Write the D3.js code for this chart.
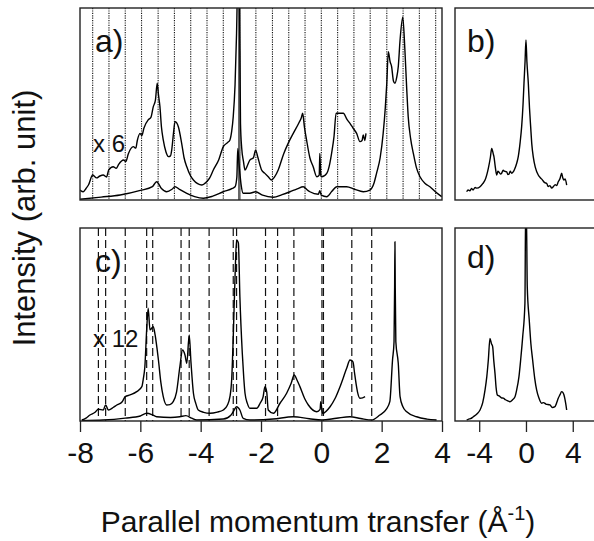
<!DOCTYPE html>
<html><head><meta charset="utf-8">
<script src="https://cdn.jsdelivr.net/npm/d3@7"></script>
<style>body{margin:0;background:#fff}svg{display:block}text{font-family:"Liberation Sans",Arial,sans-serif;fill:#111}</style>
</head><body>
<svg id="c" width="594" height="541"></svg>
<script>
// ---- data ----
const xTicksLeft = [-8, -6, -4, -2, 0, 2, 4];
const xTicksRight = [-4, 0, 4];
const dottedA = [-7.58,-7.04,-6.50,-5.96,-5.41,-4.87,-4.33,-3.79,-3.25,-2.71,-2.17,-1.62,-1.08,-0.54,0.00,0.54,1.08,1.62,2.17,2.71,3.25,3.79];
const specularA = [-2.72];
const dashedC = [-7.39,-7.15,-6.50,-5.79,-5.59,-4.65,-4.38,-3.72,-2.92,-2.81,-1.85,-1.45,-0.91,0.02,0.07,1.01,1.67];
const panelLabels = ["a)", "b)", "c)", "d)"];
const scaleLabels = ["x 6", "x 12"];

const aScaled = [[-8.00,5.2],[-7.89,4.3],[-7.80,6.0],[-7.72,7.8],[-7.58,13.0],[-7.45,11.5],[-7.34,12.5],[-7.23,13.0],[-7.12,12.0],[-7.05,15.5],[-6.90,17.3],[-6.80,16.5],[-6.72,18.5],[-6.56,20.8],[-6.48,20.0],[-6.40,24.0],[-6.23,27.8],[-6.15,27.0],[-6.10,31.0],[-6.01,34.7],[-5.95,33.5],[-5.88,37.5],[-5.74,41.7],[-5.65,43.0],[-5.57,48.6],[-5.50,52.0],[-5.44,60.8],[-5.40,55.0],[-5.35,48.6],[-5.30,38.0],[-5.24,31.3],[-5.15,25.0],[-5.07,22.6],[-5.00,23.0],[-4.96,26.0],[-4.90,35.0],[-4.85,40.8],[-4.74,38.2],[-4.63,29.5],[-4.55,22.0],[-4.46,17.3],[-4.35,13.0],[-4.24,10.4],[-4.10,8.5],[-3.97,7.8],[-3.80,9.5],[-3.70,11.5],[-3.58,15.6],[-3.40,21.0],[-3.25,27.8],[-3.10,30.0],[-3.03,31.3],[-2.97,36.0],[-2.92,43.4],[-2.86,60.0],[-2.81,86.8],[-2.77,115],[-2.72,115],[-2.68,40.0],[-2.64,27.1],[-2.58,20.0],[-2.53,15.6],[-2.45,18.0],[-2.37,20.8],[-2.25,22.0],[-2.18,26.0],[-2.10,22.0],[-2.03,18.0],[-1.98,15.6],[-1.88,14.0],[-1.76,12.1],[-1.65,10.4],[-1.55,12.0],[-1.43,15.6],[-1.25,24.0],[-1.10,29.5],[-0.93,34.7],[-0.75,40.0],[-0.66,43.0],[-0.62,45.2],[-0.56,38.0],[-0.49,31.3],[-0.38,22.0],[-0.27,17.3],[-0.15,12.1],[-0.07,13.0],[-0.05,24.3],[-0.02,13.0],[0.01,12.1],[0.18,13.9],[0.28,19.0],[0.34,24.3],[0.42,33.0],[0.49,45.2],[0.60,45.2],[0.73,45.2],[0.85,42.0],[0.95,39.9],[1.05,37.5],[1.17,34.7],[1.28,30.4],[1.35,31.0],[1.39,33.9],[1.44,31.0],[1.48,34.7]];
const aMain = [[-8.00,0.4],[-7.30,1.5],[-6.67,2.6],[-6.00,5.0],[-5.60,7.0],[-5.46,9.5],[-5.30,6.0],[-5.13,4.3],[-4.95,5.6],[-4.85,6.9],[-4.70,5.5],[-4.46,3.5],[-4.20,1.8],[-3.91,0.9],[-3.60,2.0],[-3.25,4.3],[-2.95,6.0],[-2.86,6.9],[-2.80,12.0],[-2.77,26.9],[-2.72,17.3],[-2.66,8.0],[-2.59,3.5],[-2.37,3.5],[-2.18,4.3],[-1.95,2.5],[-1.59,1.4],[-1.30,2.8],[-1.04,4.3],[-0.80,5.8],[-0.60,6.9],[-0.45,5.0],[-0.38,4.3],[-0.10,3.0],[-0.05,4.8],[0.00,2.5],[0.18,1.7],[0.35,4.5],[0.51,6.9],[0.84,6.9],[1.10,5.6],[1.39,4.3],[1.61,5.2],[1.75,9.0],[1.83,13.9],[1.95,22.0],[2.05,34.7],[2.12,48.0],[2.17,60.8],[2.22,77.2],[2.28,72.0],[2.33,69.4],[2.39,62.0],[2.44,60.8],[2.50,64.0],[2.55,69.4],[2.61,83.3],[2.70,95.2],[2.77,78.1],[2.83,58.0],[2.88,43.4],[2.96,32.0],[3.05,24.3],[3.15,17.0],[3.27,12.1],[3.45,8.5],[3.60,6.9],[3.80,4.0],[3.99,1.7]];
const cScaled = [[-7.94,0.5],[-7.80,1.5],[-7.67,3.1],[-7.50,4.5],[-7.39,6.1],[-7.23,5.7],[-7.15,8.3],[-7.06,5.7],[-6.90,7.0],[-6.78,8.3],[-6.60,10.0],[-6.50,12.6],[-6.34,13.5],[-6.12,15.2],[-5.95,17.8],[-5.90,22.0],[-5.85,28.1],[-5.79,47.2],[-5.74,58.4],[-5.68,47.2],[-5.57,48.9],[-5.51,44.6],[-5.45,38.0],[-5.40,31.6],[-5.32,20.0],[-5.24,12.6],[-5.13,8.3],[-5.02,8.5],[-4.91,10.0],[-4.80,15.0],[-4.69,28.1],[-4.60,36.8],[-4.52,34.2],[-4.46,29.9],[-4.38,44.6],[-4.32,30.1],[-4.24,14.4],[-4.16,9.0],[-4.08,5.7],[-3.90,4.5],[-3.69,4.0],[-3.45,4.6],[-3.25,5.7],[-3.12,8.0],[-3.03,12.6],[-2.97,22.0],[-2.92,43.7],[-2.86,75.0],[-2.81,93.8],[-2.75,92.2],[-2.70,64.4],[-2.62,35.1],[-2.57,22.0],[-2.53,14.4],[-2.45,9.0],[-2.37,6.6],[-2.14,6.6],[-2.03,9.2],[-1.93,12.5],[-1.87,17.8],[-1.81,15.0],[-1.76,5.7],[-1.59,4.0],[-1.37,9.2],[-1.15,14.4],[-1.00,19.5],[-0.90,23.8],[-0.80,21.0],[-0.71,17.8],[-0.55,11.5],[-0.43,8.3],[-0.15,4.8],[-0.04,6.0],[-0.02,10.0],[0.04,4.0],[0.29,7.4],[0.45,11.5],[0.62,17.8],[0.84,27.3],[0.95,31.6],[1.05,30.6],[1.10,25.0],[1.15,19.5],[1.20,15.0],[1.28,11.8],[1.37,12.0],[1.45,12.6]];
const cMain = [[-7.94,0.2],[-7.23,0.5],[-6.50,1.5],[-6.00,2.6],[-5.79,4.0],[-5.60,3.2],[-5.46,2.2],[-5.00,1.8],[-4.69,2.2],[-4.49,2.8],[-4.30,1.5],[-4.13,0.5],[-3.25,1.0],[-3.00,3.0],[-2.92,4.8],[-2.81,7.4],[-2.70,5.7],[-2.59,1.4],[-2.37,0.5],[-1.60,1.0],[-0.93,2.2],[-0.40,1.2],[0.02,0.5],[0.50,1.4],[0.95,2.2],[1.30,1.3],[1.67,0.5],[1.94,3.1],[2.15,6.0],[2.27,10.0],[2.36,31.6],[2.41,41.1],[2.43,70.0],[2.44,92.9],[2.45,70.0],[2.47,41.1],[2.55,29.9],[2.61,12.6],[2.70,7.5],[2.83,4.8],[3.16,2.2],[3.50,1.0],[3.82,0.5]];
const bSeries = [[-5.07,4.3],[-4.95,5.2],[-4.80,4.8],[-4.65,6.0],[-4.53,5.2],[-4.35,6.5],[-4.20,6.2],[-3.93,6.9],[-3.70,8.5],[-3.50,10.4],[-3.22,16.5],[-3.05,22.0],[-2.93,26.9],[-2.80,24.0],[-2.74,22.6],[-2.62,17.0],[-2.50,13.0],[-2.40,15.0],[-2.30,14.5],[-2.18,13.5],[-2.08,13.9],[-1.95,15.5],[-1.85,15.0],[-1.65,14.7],[-1.55,13.3],[-1.45,13.5],[-1.35,15.0],[-1.22,13.9],[-1.05,15.0],[-0.94,16.5],[-0.80,19.0],[-0.66,22.6],[-0.50,30.0],[-0.37,38.2],[-0.25,50.0],[-0.17,60.8],[-0.08,72.0],[0.00,83.3],[0.08,72.0],[0.20,60.8],[0.30,48.0],[0.40,38.2],[0.50,29.0],[0.62,22.6],[0.80,17.0],[1.05,13.0],[1.25,11.5],[1.40,10.5],[1.60,9.0],[1.77,8.7],[1.90,7.0],[2.05,7.5],[2.20,6.2],[2.33,6.9],[2.50,8.0],[2.62,7.5],[2.76,9.5],[2.90,11.0],[3.05,13.9],[3.15,11.5],[3.25,10.4],[3.35,11.0],[3.48,7.8]];
const dSeries = [[-5.07,0.5],[-4.90,1.0],[-4.75,1.2],[-4.50,2.2],[-4.20,3.6],[-3.93,5.7],[-3.70,9.5],[-3.50,16.1],[-3.35,23.0],[-3.22,31.6],[-3.08,42.8],[-2.95,40.0],[-2.85,38.5],[-2.75,31.0],[-2.65,24.7],[-2.55,17.0],[-2.45,13.5],[-2.30,13.0],[-2.10,12.0],[-1.94,11.8],[-1.75,11.0],[-1.60,10.5],[-1.37,10.0],[-1.15,11.0],[-0.94,12.6],[-0.80,16.0],[-0.60,23.0],[-0.45,32.0],[-0.28,43.7],[-0.09,61.0],[-0.03,110],[0.03,110],[0.11,69.6],[0.28,52.3],[0.42,40.0],[0.57,31.6],[0.75,22.0],[0.91,16.1],[1.10,12.0],[1.34,9.2],[1.50,9.5],[1.70,8.8],[2.05,8.3],[2.25,7.0],[2.48,7.4],[2.60,9.0],[2.76,11.8],[2.90,13.5],[3.05,15.2],[3.15,14.8],[3.25,13.5],[3.40,9.0],[3.48,5.7]];

// ---- layout ----
const svg = d3.select("#c");
const L = {x0: 80, x1: 442}, R = {x0: 455, x1: 600};
const top1 = {y0: 8, y1: 200}, bot1 = {y0: 228, y1: 421};
const xL = d3.scaleLinear().domain([-8, 4]).range([L.x0, L.x1]);
const xR = d3.scaleLinear().domain([-6.07, 6.33]).range([R.x0, R.x1]);
const yTop = d3.scaleLinear().domain([0, 100]).range([top1.y1, top1.y0]);
const yBot = d3.scaleLinear().domain([0, 100]).range([bot1.y1, bot1.y0]);

const defs = svg.append("defs");
function panel(id, x, y) {
  defs.append("clipPath").attr("id", id).append("rect")
    .attr("x", x.range()[0]).attr("y", y.range()[1])
    .attr("width", x.range()[1] - x.range()[0]).attr("height", y.range()[0] - y.range()[1]);
  const g = svg.append("g");
  const inner = g.append("g").attr("clip-path", `url(#${id})`);
  return {g, inner, x, y};
}
function frame(p) {
  p.g.append("rect").attr("x", p.x.range()[0]).attr("y", p.y.range()[1])
    .attr("width", p.x.range()[1] - p.x.range()[0]).attr("height", p.y.range()[0] - p.y.range()[1])
    .attr("fill", "none").attr("stroke", "#222").attr("stroke-width", 1.4);
}
function curve(p, data) {
  const line = d3.line().curve(d3.curveMonotoneX).x(d => p.x(d[0])).y(d => p.y(d[1]));
  p.inner.append("path").datum(data).attr("d", line)
    .attr("fill", "none").attr("stroke", "#000").attr("stroke-width", 1.4).attr("stroke-linejoin", "round");
}
function vlines(p, vals, dash, color, w) {
  p.inner.selectAll(null).data(vals).enter().append("line")
    .attr("x1", d => p.x(d)).attr("x2", d => p.x(d))
    .attr("y1", p.y.range()[1]).attr("y2", p.y.range()[0])
    .attr("stroke", color).attr("stroke-width", w)
    .attr("stroke-dasharray", dash);
}
function axis(p, ticks) {
  const ax = d3.axisBottom(p.x).tickValues(ticks).tickSize(11).tickPadding(10).tickFormat(d => String(d));
  const g = p.g.append("g").attr("transform", `translate(0,${p.y.range()[0]})`).call(ax);
  g.select(".domain").remove();
  g.selectAll(".tick line").attr("stroke", "#222").attr("stroke-width", 1.3);
  g.selectAll(".tick text").attr("font-size", 30).attr("font-family", "Liberation Sans, Arial, sans-serif").attr("fill", "#111").attr("dy", "0.71em");
}

const pa = panel("ca", xL, yTop);
vlines(pa, dottedA, "1.2,1.2", "#111", 1.1);
vlines(pa, specularA, null, "#666", 2.6);
curve(pa, aScaled);
curve(pa, aMain);
frame(pa);

const pb = panel("cb", xR, yTop);
curve(pb, bSeries);
frame(pb);

const pc = panel("cc", xL, yBot);
vlines(pc, dashedC, "8,4", "#111", 1.2);
curve(pc, cScaled);
curve(pc, cMain);
frame(pc);
axis(pc, xTicksLeft);

const pd = panel("cd", xR, yBot);
curve(pd, dSeries);
frame(pd);
axis(pd, xTicksRight);

// labels
const lab = [[pa, 95, 52], [pb, 467, 52], [pc, 95, 272], [pd, 467, 268]];
lab.forEach((l, i) => l[0].g.append("text").attr("x", l[1]).attr("y", l[2]).attr("font-size", 32).text(panelLabels[i]));
pa.g.append("text").attr("x", 93).attr("y", 152).attr("font-size", 24).text(scaleLabels[0]);
pc.g.append("text").attr("x", 93).attr("y", 347).attr("font-size", 24).text(scaleLabels[1]);

svg.append("text").attr("transform", "translate(35,218) rotate(-90)").attr("text-anchor", "middle")
  .attr("font-size", 31).text("Intensity (arb. unit)");
const xt = svg.append("text").attr("x", 318).attr("y", 532).attr("text-anchor", "middle").attr("font-size", 30);
xt.append("tspan").text("Parallel momentum transfer (Å");
xt.append("tspan").attr("font-size", 20).attr("dy", -12).text("-1");
xt.append("tspan").attr("dy", 12).text(")");
</script>
</body></html>
